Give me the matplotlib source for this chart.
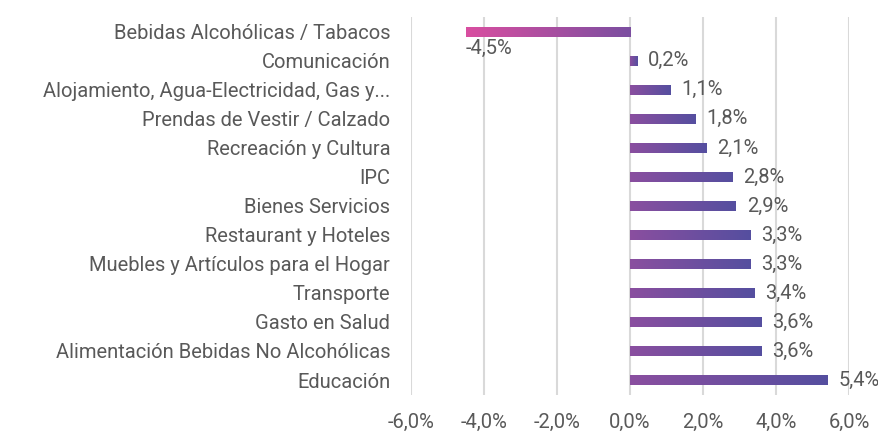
import numpy as np
import matplotlib
matplotlib.use('Agg')
import matplotlib.pyplot as plt
from matplotlib.colors import LinearSegmentedColormap

# data, top to bottom as in the chart
categories = ['Bebidas Alcohólicas / Tabacos', 'Comunicación',
              'Alojamiento, Agua-Electricidad, Gas y...',
              'Prendas de Vestir / Calzado', 'Recreación y Cultura', 'IPC',
              'Bienes Servicios', 'Restaurant y Hoteles',
              'Muebles y Artículos para el Hogar', 'Transporte',
              'Gasto en Salud', 'Alimentación Bebidas No Alcohólicas',
              'Educación']
values = [-4.5, 0.2, 1.1, 1.8, 2.1, 2.8, 2.9, 3.3, 3.3, 3.4, 3.6, 3.6, 5.4]
xticks = [-6, -4, -2, 0, 2, 4, 6]

plt.rcParams['font.family'] = ['Roboto', 'DejaVu Sans']
txt = '#595959'
fs = 14.5

def pct(v):
    return '{:.1f}%'.format(v).replace('.', ',')

fig = plt.figure(figsize=(8.79, 4.34), dpi=100)
ax = fig.add_axes([0.4676, 0.091, 0.4983, 0.869])

neg_cmap = LinearSegmentedColormap.from_list('neg', ['#d94ea0', '#7b4fa0'])
pos_cmap = LinearSegmentedColormap.from_list('pos', ['#8a4f9f', '#554e9f'])
grad = np.linspace(0, 1, 256).reshape(1, -1)
h = 0.32

for i, v in enumerate(values):
    x0, x1 = min(0, v), max(0, v)
    cm = neg_cmap if v < 0 else pos_cmap
    ax.imshow(grad, extent=[x0, x1, i + h / 2, i - h / 2], cmap=cm,
              aspect='auto', interpolation='bilinear', zorder=3)
    if v < 0:
        ax.text(v, i + 0.25, pct(v), ha='left', va='top', fontsize=fs, color=txt)
    else:
        ax.text(v + 0.3, i, pct(v), ha='left', va='center', fontsize=fs, color=txt)

ax.set_xlim(-6, 6)
ax.set_ylim(len(values) - 0.5, -0.5)
ax.set_aspect('auto')
ax.set_xticks(xticks)
ax.set_xticklabels([pct(t) for t in xticks])
ax.set_yticks(range(len(categories)))
ax.set_yticklabels(categories)
ax.tick_params(axis='both', length=0, labelsize=fs, labelcolor=txt)
ax.tick_params(axis='y', pad=15)
ax.tick_params(axis='x', pad=13)
ax.grid(axis='x', color='#d9d9d9', linewidth=1.5, zorder=0)
ax.set_axisbelow(True)
for s in ax.spines.values():
    s.set_visible(False)

fig.savefig('out.png', dpi=100)
